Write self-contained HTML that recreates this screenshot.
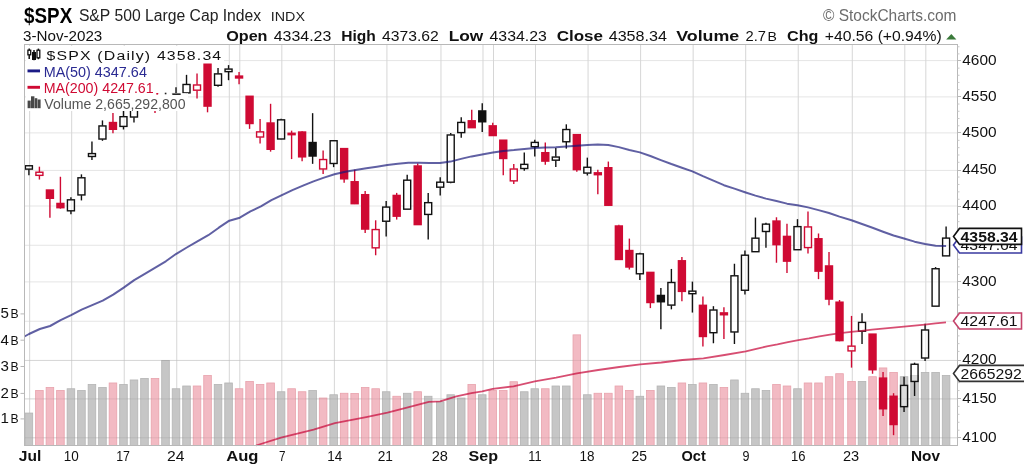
<!DOCTYPE html>
<html><head><meta charset="utf-8"><title>$SPX</title><style>html,body{margin:0;padding:0;background:#fff}body{width:1024px;height:467px;overflow:hidden}svg{filter:blur(0.55px)}</style></head><body>
<svg width="1024" height="467" viewBox="0 0 1024 467" style="display:block;font-family:'Liberation Sans',sans-serif">
<rect width="1024" height="467" fill="#fff"/>
<g stroke="#e5e5e5" stroke-width="1">
<line x1="24.5" y1="437.8" x2="957.5" y2="437.8"/>
<line x1="24.5" y1="398.9" x2="957.5" y2="398.9"/>
<line x1="24.5" y1="360.4" x2="957.5" y2="360.4"/>
<line x1="24.5" y1="321.25" x2="957.5" y2="321.25"/>
<line x1="24.5" y1="281.9" x2="957.5" y2="281.9"/>
<line x1="24.5" y1="245.25" x2="957.5" y2="245.25"/>
<line x1="24.5" y1="206" x2="957.5" y2="206"/>
<line x1="24.5" y1="170.4" x2="957.5" y2="170.4"/>
<line x1="24.5" y1="132.9" x2="957.5" y2="132.9"/>
<line x1="24.5" y1="96.9" x2="957.5" y2="96.9"/>
<line x1="24.5" y1="60.6" x2="957.5" y2="60.6"/>
<line x1="29.65" y1="44.5" x2="29.65" y2="445.5" stroke="#d6d6d6"/>
<line x1="71.68" y1="44.5" x2="71.68" y2="445.5" stroke="#d6d6d6"/>
<line x1="124.22" y1="44.5" x2="124.22" y2="445.5" stroke="#d6d6d6"/>
<line x1="176.76" y1="44.5" x2="176.76" y2="445.5" stroke="#d6d6d6"/>
<line x1="229.3" y1="44.5" x2="229.3" y2="445.5" stroke="#d6d6d6"/>
<line x1="239.81" y1="44.5" x2="239.81" y2="445.5" stroke="#d6d6d6"/>
<line x1="281.84" y1="44.5" x2="281.84" y2="445.5" stroke="#d6d6d6"/>
<line x1="334.38" y1="44.5" x2="334.38" y2="445.5" stroke="#d6d6d6"/>
<line x1="386.92" y1="44.5" x2="386.92" y2="445.5" stroke="#d6d6d6"/>
<line x1="440.96" y1="44.5" x2="440.96" y2="445.5" stroke="#d6d6d6"/>
<line x1="482.99" y1="44.5" x2="482.99" y2="445.5" stroke="#d6d6d6"/>
<line x1="493.5" y1="44.5" x2="493.5" y2="445.5" stroke="#d6d6d6"/>
<line x1="535.53" y1="44.5" x2="535.53" y2="445.5" stroke="#d6d6d6"/>
<line x1="588.07" y1="44.5" x2="588.07" y2="445.5" stroke="#d6d6d6"/>
<line x1="640.61" y1="44.5" x2="640.61" y2="445.5" stroke="#d6d6d6"/>
<line x1="693.15" y1="44.5" x2="693.15" y2="445.5" stroke="#d6d6d6"/>
<line x1="745.69" y1="44.5" x2="745.69" y2="445.5" stroke="#d6d6d6"/>
<line x1="798.23" y1="44.5" x2="798.23" y2="445.5" stroke="#d6d6d6"/>
<line x1="852.27" y1="44.5" x2="852.27" y2="445.5" stroke="#d6d6d6"/>
<line x1="904.81" y1="44.5" x2="904.81" y2="445.5" stroke="#d6d6d6"/>
<line x1="925.83" y1="44.5" x2="925.83" y2="445.5" stroke="#d6d6d6"/>
</g>
<g stroke-width="0.8">
<rect x="25.1" y="413.06" width="7.6" height="32.44" fill="#c6c6c6" stroke="#b4b4b4"/>
<rect x="35.61" y="390.5" width="7.6" height="55" fill="#f2bac3" stroke="#e8a2ac"/>
<rect x="46.12" y="387.49" width="7.6" height="58.01" fill="#f2bac3" stroke="#e8a2ac"/>
<rect x="56.62" y="390.5" width="7.6" height="55" fill="#f2bac3" stroke="#e8a2ac"/>
<rect x="67.13" y="388.75" width="7.6" height="56.75" fill="#c6c6c6" stroke="#b4b4b4"/>
<rect x="77.64" y="390.5" width="7.6" height="55" fill="#c6c6c6" stroke="#b4b4b4"/>
<rect x="88.15" y="384.49" width="7.6" height="61.01" fill="#c6c6c6" stroke="#b4b4b4"/>
<rect x="98.66" y="387.49" width="7.6" height="58.01" fill="#c6c6c6" stroke="#b4b4b4"/>
<rect x="109.16" y="382.98" width="7.6" height="62.52" fill="#f2bac3" stroke="#e8a2ac"/>
<rect x="119.67" y="384.49" width="7.6" height="61.01" fill="#c6c6c6" stroke="#b4b4b4"/>
<rect x="130.18" y="379.97" width="7.6" height="65.53" fill="#c6c6c6" stroke="#b4b4b4"/>
<rect x="140.69" y="378.47" width="7.6" height="67.03" fill="#c6c6c6" stroke="#b4b4b4"/>
<rect x="151.2" y="378.47" width="7.6" height="67.03" fill="#f2bac3" stroke="#e8a2ac"/>
<rect x="161.7" y="360.43" width="7.6" height="85.07" fill="#c6c6c6" stroke="#b4b4b4"/>
<rect x="172.21" y="388.75" width="7.6" height="56.75" fill="#c6c6c6" stroke="#b4b4b4"/>
<rect x="182.72" y="385.99" width="7.6" height="59.51" fill="#c6c6c6" stroke="#b4b4b4"/>
<rect x="193.23" y="385.99" width="7.6" height="59.51" fill="#f2bac3" stroke="#e8a2ac"/>
<rect x="203.74" y="375.46" width="7.6" height="70.04" fill="#f2bac3" stroke="#e8a2ac"/>
<rect x="214.24" y="384.49" width="7.6" height="61.01" fill="#c6c6c6" stroke="#b4b4b4"/>
<rect x="224.75" y="382.98" width="7.6" height="62.52" fill="#c6c6c6" stroke="#b4b4b4"/>
<rect x="235.26" y="388.75" width="7.6" height="56.75" fill="#f2bac3" stroke="#e8a2ac"/>
<rect x="245.77" y="381.48" width="7.6" height="64.02" fill="#f2bac3" stroke="#e8a2ac"/>
<rect x="256.28" y="384.49" width="7.6" height="61.01" fill="#f2bac3" stroke="#e8a2ac"/>
<rect x="266.78" y="382.98" width="7.6" height="62.52" fill="#f2bac3" stroke="#e8a2ac"/>
<rect x="277.29" y="391.75" width="7.6" height="53.75" fill="#c6c6c6" stroke="#b4b4b4"/>
<rect x="287.8" y="388.75" width="7.6" height="56.75" fill="#f2bac3" stroke="#e8a2ac"/>
<rect x="298.31" y="391.75" width="7.6" height="53.75" fill="#f2bac3" stroke="#e8a2ac"/>
<rect x="308.82" y="390.5" width="7.6" height="55" fill="#c6c6c6" stroke="#b4b4b4"/>
<rect x="319.32" y="398.02" width="7.6" height="47.48" fill="#f2bac3" stroke="#e8a2ac"/>
<rect x="329.83" y="394.76" width="7.6" height="50.74" fill="#c6c6c6" stroke="#b4b4b4"/>
<rect x="340.34" y="393.26" width="7.6" height="52.24" fill="#f2bac3" stroke="#e8a2ac"/>
<rect x="350.85" y="393.51" width="7.6" height="51.99" fill="#f2bac3" stroke="#e8a2ac"/>
<rect x="361.36" y="387.49" width="7.6" height="58.01" fill="#f2bac3" stroke="#e8a2ac"/>
<rect x="371.86" y="388.75" width="7.6" height="56.75" fill="#f2bac3" stroke="#e8a2ac"/>
<rect x="382.37" y="391.75" width="7.6" height="53.75" fill="#c6c6c6" stroke="#b4b4b4"/>
<rect x="392.88" y="396.26" width="7.6" height="49.24" fill="#f2bac3" stroke="#e8a2ac"/>
<rect x="403.39" y="393.26" width="7.6" height="52.24" fill="#c6c6c6" stroke="#b4b4b4"/>
<rect x="413.9" y="391.75" width="7.6" height="53.75" fill="#f2bac3" stroke="#e8a2ac"/>
<rect x="424.4" y="396.26" width="7.6" height="49.24" fill="#c6c6c6" stroke="#b4b4b4"/>
<rect x="436.41" y="401.78" width="7.6" height="43.72" fill="#c6c6c6" stroke="#b4b4b4"/>
<rect x="446.92" y="394.76" width="7.6" height="50.74" fill="#c6c6c6" stroke="#b4b4b4"/>
<rect x="457.43" y="398.02" width="7.6" height="47.48" fill="#c6c6c6" stroke="#b4b4b4"/>
<rect x="467.94" y="384.49" width="7.6" height="61.01" fill="#f2bac3" stroke="#e8a2ac"/>
<rect x="478.44" y="394.76" width="7.6" height="50.74" fill="#c6c6c6" stroke="#b4b4b4"/>
<rect x="488.95" y="390.5" width="7.6" height="55" fill="#f2bac3" stroke="#e8a2ac"/>
<rect x="499.46" y="390.5" width="7.6" height="55" fill="#f2bac3" stroke="#e8a2ac"/>
<rect x="509.97" y="381.73" width="7.6" height="63.77" fill="#f2bac3" stroke="#e8a2ac"/>
<rect x="520.48" y="391.75" width="7.6" height="53.75" fill="#c6c6c6" stroke="#b4b4b4"/>
<rect x="530.98" y="388.75" width="7.6" height="56.75" fill="#c6c6c6" stroke="#b4b4b4"/>
<rect x="541.49" y="388.75" width="7.6" height="56.75" fill="#f2bac3" stroke="#e8a2ac"/>
<rect x="552" y="385.99" width="7.6" height="59.51" fill="#c6c6c6" stroke="#b4b4b4"/>
<rect x="562.51" y="385.99" width="7.6" height="59.51" fill="#c6c6c6" stroke="#b4b4b4"/>
<rect x="573.02" y="334.86" width="7.6" height="110.64" fill="#f2bac3" stroke="#e8a2ac"/>
<rect x="583.52" y="394.76" width="7.6" height="50.74" fill="#c6c6c6" stroke="#b4b4b4"/>
<rect x="594.03" y="393.26" width="7.6" height="52.24" fill="#f2bac3" stroke="#e8a2ac"/>
<rect x="604.54" y="393.26" width="7.6" height="52.24" fill="#f2bac3" stroke="#e8a2ac"/>
<rect x="615.05" y="385.99" width="7.6" height="59.51" fill="#f2bac3" stroke="#e8a2ac"/>
<rect x="625.56" y="390.5" width="7.6" height="55" fill="#f2bac3" stroke="#e8a2ac"/>
<rect x="636.06" y="396.26" width="7.6" height="49.24" fill="#c6c6c6" stroke="#b4b4b4"/>
<rect x="646.57" y="390.5" width="7.6" height="55" fill="#f2bac3" stroke="#e8a2ac"/>
<rect x="657.08" y="385.99" width="7.6" height="59.51" fill="#c6c6c6" stroke="#b4b4b4"/>
<rect x="667.59" y="387.49" width="7.6" height="58.01" fill="#c6c6c6" stroke="#b4b4b4"/>
<rect x="678.1" y="382.98" width="7.6" height="62.52" fill="#f2bac3" stroke="#e8a2ac"/>
<rect x="688.6" y="384.49" width="7.6" height="61.01" fill="#c6c6c6" stroke="#b4b4b4"/>
<rect x="699.11" y="382.98" width="7.6" height="62.52" fill="#f2bac3" stroke="#e8a2ac"/>
<rect x="709.62" y="384.49" width="7.6" height="61.01" fill="#c6c6c6" stroke="#b4b4b4"/>
<rect x="720.13" y="387.49" width="7.6" height="58.01" fill="#f2bac3" stroke="#e8a2ac"/>
<rect x="730.64" y="379.97" width="7.6" height="65.53" fill="#c6c6c6" stroke="#b4b4b4"/>
<rect x="741.14" y="393.26" width="7.6" height="52.24" fill="#c6c6c6" stroke="#b4b4b4"/>
<rect x="751.65" y="388.75" width="7.6" height="56.75" fill="#c6c6c6" stroke="#b4b4b4"/>
<rect x="762.16" y="390.5" width="7.6" height="55" fill="#c6c6c6" stroke="#b4b4b4"/>
<rect x="772.67" y="384.49" width="7.6" height="61.01" fill="#f2bac3" stroke="#e8a2ac"/>
<rect x="783.18" y="385.99" width="7.6" height="59.51" fill="#f2bac3" stroke="#e8a2ac"/>
<rect x="793.68" y="388.75" width="7.6" height="56.75" fill="#c6c6c6" stroke="#b4b4b4"/>
<rect x="804.19" y="382.98" width="7.6" height="62.52" fill="#f2bac3" stroke="#e8a2ac"/>
<rect x="814.7" y="382.98" width="7.6" height="62.52" fill="#f2bac3" stroke="#e8a2ac"/>
<rect x="825.21" y="376.72" width="7.6" height="68.78" fill="#f2bac3" stroke="#e8a2ac"/>
<rect x="835.72" y="373.71" width="7.6" height="71.79" fill="#f2bac3" stroke="#e8a2ac"/>
<rect x="847.72" y="381.48" width="7.6" height="64.02" fill="#f2bac3" stroke="#e8a2ac"/>
<rect x="858.23" y="381.48" width="7.6" height="64.02" fill="#c6c6c6" stroke="#b4b4b4"/>
<rect x="868.74" y="376.72" width="7.6" height="68.78" fill="#f2bac3" stroke="#e8a2ac"/>
<rect x="879.25" y="367.94" width="7.6" height="77.56" fill="#f2bac3" stroke="#e8a2ac"/>
<rect x="889.76" y="372.46" width="7.6" height="73.04" fill="#f2bac3" stroke="#e8a2ac"/>
<rect x="900.26" y="376.72" width="7.6" height="68.78" fill="#c6c6c6" stroke="#b4b4b4"/>
<rect x="910.77" y="375.46" width="7.6" height="70.04" fill="#c6c6c6" stroke="#b4b4b4"/>
<rect x="921.28" y="372.46" width="7.6" height="73.04" fill="#c6c6c6" stroke="#b4b4b4"/>
<rect x="931.79" y="372.46" width="7.6" height="73.04" fill="#c6c6c6" stroke="#b4b4b4"/>
<rect x="942.3" y="375.46" width="7.6" height="70.04" fill="#c6c6c6" stroke="#b4b4b4"/>
</g>
<g stroke="#000" stroke-opacity="0.07" stroke-width="1">
<line x1="24.5" y1="437.8" x2="957.5" y2="437.8"/>
<line x1="24.5" y1="398.9" x2="957.5" y2="398.9"/>
<line x1="24.5" y1="360.4" x2="957.5" y2="360.4"/>
</g>
<line x1="28.9" y1="164.92" x2="28.9" y2="165.56" stroke="#111111" stroke-width="1.4"/>
<line x1="28.9" y1="169.32" x2="28.9" y2="175.36" stroke="#111111" stroke-width="1.4"/>
<rect x="25.4" y="165.76" width="7" height="3.36" fill="#fff" fill-opacity="0.4" stroke="#111111" stroke-width="1.4"/>
<line x1="39.41" y1="166.68" x2="39.41" y2="172.02" stroke="#cf0a33" stroke-width="1.4"/>
<line x1="39.41" y1="175.54" x2="39.41" y2="179.55" stroke="#cf0a33" stroke-width="1.4"/>
<rect x="35.91" y="172.22" width="7" height="3.13" fill="#fff" fill-opacity="0.4" stroke="#cf0a33" stroke-width="1.4"/>
<line x1="49.92" y1="198.09" x2="49.92" y2="217.87" stroke="#cf0a33" stroke-width="1.4"/>
<rect x="45.72" y="189.3" width="8.4" height="9.69" fill="#cf0a33"/>
<line x1="60.42" y1="176.76" x2="60.42" y2="203.33" stroke="#cf0a33" stroke-width="1.4"/>
<line x1="60.42" y1="207.5" x2="60.42" y2="208.65" stroke="#cf0a33" stroke-width="1.4"/>
<rect x="56.22" y="202.73" width="8.4" height="5.66" fill="#cf0a33"/>
<line x1="70.93" y1="197.34" x2="70.93" y2="199.62" stroke="#111111" stroke-width="1.4"/>
<line x1="70.93" y1="211.01" x2="70.93" y2="214.23" stroke="#111111" stroke-width="1.4"/>
<rect x="67.43" y="199.82" width="7" height="10.99" fill="#fff" fill-opacity="0.4" stroke="#111111" stroke-width="1.4"/>
<line x1="81.44" y1="174.36" x2="81.44" y2="177.59" stroke="#111111" stroke-width="1.4"/>
<line x1="81.44" y1="195.15" x2="81.44" y2="200.42" stroke="#111111" stroke-width="1.4"/>
<rect x="77.94" y="177.79" width="7" height="17.15" fill="#fff" fill-opacity="0.4" stroke="#111111" stroke-width="1.4"/>
<line x1="91.95" y1="141.55" x2="91.95" y2="153.39" stroke="#111111" stroke-width="1.4"/>
<line x1="91.95" y1="156.67" x2="91.95" y2="159.94" stroke="#111111" stroke-width="1.4"/>
<rect x="88.45" y="153.59" width="7" height="2.88" fill="#fff" fill-opacity="0.4" stroke="#111111" stroke-width="1.4"/>
<line x1="102.46" y1="120.41" x2="102.46" y2="125.74" stroke="#111111" stroke-width="1.4"/>
<line x1="102.46" y1="139.24" x2="102.46" y2="140.81" stroke="#111111" stroke-width="1.4"/>
<rect x="98.96" y="125.94" width="7" height="13.1" fill="#fff" fill-opacity="0.4" stroke="#111111" stroke-width="1.4"/>
<line x1="112.96" y1="112.89" x2="112.96" y2="122.42" stroke="#cf0a33" stroke-width="1.4"/>
<line x1="112.96" y1="129.1" x2="112.96" y2="133.37" stroke="#cf0a33" stroke-width="1.4"/>
<rect x="108.76" y="121.82" width="8.4" height="8.18" fill="#cf0a33"/>
<line x1="123.47" y1="109.2" x2="123.47" y2="116.49" stroke="#111111" stroke-width="1.4"/>
<line x1="123.47" y1="126.6" x2="123.47" y2="129.48" stroke="#111111" stroke-width="1.4"/>
<rect x="119.97" y="116.69" width="7" height="9.71" fill="#fff" fill-opacity="0.4" stroke="#111111" stroke-width="1.4"/>
<line x1="133.98" y1="87.98" x2="133.98" y2="93.24" stroke="#111111" stroke-width="1.4"/>
<line x1="133.98" y1="117.22" x2="133.98" y2="122.44" stroke="#111111" stroke-width="1.4"/>
<rect x="130.48" y="93.44" width="7" height="23.58" fill="#fff" fill-opacity="0.4" stroke="#111111" stroke-width="1.4"/>
<line x1="144.49" y1="76.41" x2="144.49" y2="85.28" stroke="#111111" stroke-width="1.4"/>
<line x1="144.49" y1="87.08" x2="144.49" y2="91.44" stroke="#111111" stroke-width="1.4"/>
<rect x="140.99" y="85.48" width="7" height="1.4" fill="#fff" fill-opacity="0.4" stroke="#111111" stroke-width="1.4"/>
<line x1="155" y1="86.22" x2="155" y2="93.67" stroke="#cf0a33" stroke-width="1.4"/>
<line x1="155" y1="107.74" x2="155" y2="113.03" stroke="#cf0a33" stroke-width="1.4"/>
<rect x="150.8" y="93.07" width="8.4" height="15.57" fill="#cf0a33"/>
<line x1="165.5" y1="93.23" x2="165.5" y2="96.71" stroke="#111111" stroke-width="1.4"/>
<line x1="165.5" y1="106.68" x2="165.5" y2="107.08" stroke="#111111" stroke-width="1.4"/>
<rect x="161.3" y="96.11" width="8.4" height="11.47" fill="#111111"/>
<line x1="176.01" y1="87.18" x2="176.01" y2="93.48" stroke="#111111" stroke-width="1.4"/>
<line x1="176.01" y1="101.59" x2="176.01" y2="103.11" stroke="#111111" stroke-width="1.4"/>
<rect x="172.51" y="93.68" width="7" height="7.71" fill="#fff" fill-opacity="0.4" stroke="#111111" stroke-width="1.4"/>
<line x1="186.52" y1="74.84" x2="186.52" y2="84.27" stroke="#111111" stroke-width="1.4"/>
<line x1="186.52" y1="93.09" x2="186.52" y2="95.08" stroke="#111111" stroke-width="1.4"/>
<rect x="183.02" y="84.47" width="7" height="8.42" fill="#fff" fill-opacity="0.4" stroke="#111111" stroke-width="1.4"/>
<line x1="197.03" y1="73.52" x2="197.03" y2="84.78" stroke="#cf0a33" stroke-width="1.4"/>
<line x1="197.03" y1="90.38" x2="197.03" y2="98.57" stroke="#cf0a33" stroke-width="1.4"/>
<rect x="193.53" y="84.98" width="7" height="5.2" fill="#fff" fill-opacity="0.4" stroke="#cf0a33" stroke-width="1.4"/>
<line x1="207.54" y1="55.97" x2="207.54" y2="62.24" stroke="#cf0a33" stroke-width="1.4"/>
<line x1="207.54" y1="105.91" x2="207.54" y2="112.31" stroke="#cf0a33" stroke-width="1.4"/>
<rect x="203.34" y="61.64" width="8.4" height="45.17" fill="#cf0a33"/>
<line x1="218.04" y1="68.02" x2="218.04" y2="73.69" stroke="#111111" stroke-width="1.4"/>
<line x1="218.04" y1="85.5" x2="218.04" y2="86.75" stroke="#111111" stroke-width="1.4"/>
<rect x="214.54" y="73.89" width="7" height="11.41" fill="#fff" fill-opacity="0.4" stroke="#111111" stroke-width="1.4"/>
<line x1="228.55" y1="65.12" x2="228.55" y2="68.88" stroke="#111111" stroke-width="1.4"/>
<line x1="228.55" y1="71.84" x2="228.55" y2="80.2" stroke="#111111" stroke-width="1.4"/>
<rect x="225.05" y="69.08" width="7" height="2.56" fill="#fff" fill-opacity="0.4" stroke="#111111" stroke-width="1.4"/>
<line x1="239.06" y1="71.98" x2="239.06" y2="75.97" stroke="#cf0a33" stroke-width="1.4"/>
<line x1="239.06" y1="77.77" x2="239.06" y2="84.22" stroke="#cf0a33" stroke-width="1.4"/>
<rect x="234.86" y="75.37" width="8.4" height="3.3" fill="#cf0a33"/>
<line x1="249.57" y1="123.31" x2="249.57" y2="128.86" stroke="#cf0a33" stroke-width="1.4"/>
<rect x="245.37" y="95.56" width="8.4" height="28.65" fill="#cf0a33"/>
<line x1="260.08" y1="118.88" x2="260.08" y2="131.67" stroke="#cf0a33" stroke-width="1.4"/>
<line x1="260.08" y1="137.22" x2="260.08" y2="143.6" stroke="#cf0a33" stroke-width="1.4"/>
<rect x="256.58" y="131.87" width="7" height="5.15" fill="#fff" fill-opacity="0.4" stroke="#cf0a33" stroke-width="1.4"/>
<line x1="270.58" y1="103.79" x2="270.58" y2="122.89" stroke="#cf0a33" stroke-width="1.4"/>
<line x1="270.58" y1="149.09" x2="270.58" y2="151.64" stroke="#cf0a33" stroke-width="1.4"/>
<rect x="266.38" y="122.29" width="8.4" height="27.7" fill="#cf0a33"/>
<line x1="281.09" y1="118.63" x2="281.09" y2="119.64" stroke="#111111" stroke-width="1.4"/>
<line x1="281.09" y1="139.19" x2="281.09" y2="139.5" stroke="#111111" stroke-width="1.4"/>
<rect x="277.59" y="119.84" width="7" height="19.14" fill="#fff" fill-opacity="0.4" stroke="#111111" stroke-width="1.4"/>
<line x1="291.6" y1="130.64" x2="291.6" y2="133.09" stroke="#cf0a33" stroke-width="1.4"/>
<line x1="291.6" y1="134.89" x2="291.6" y2="159.09" stroke="#cf0a33" stroke-width="1.4"/>
<rect x="288.1" y="133.29" width="7" height="1.4" fill="#fff" fill-opacity="0.4" stroke="#cf0a33" stroke-width="1.4"/>
<line x1="302.11" y1="131.27" x2="302.11" y2="131.9" stroke="#cf0a33" stroke-width="1.4"/>
<line x1="302.11" y1="156.65" x2="302.11" y2="161.34" stroke="#cf0a33" stroke-width="1.4"/>
<rect x="297.91" y="131.3" width="8.4" height="26.25" fill="#cf0a33"/>
<line x1="312.62" y1="113.17" x2="312.62" y2="142.41" stroke="#111111" stroke-width="1.4"/>
<line x1="312.62" y1="155.83" x2="312.62" y2="163.84" stroke="#111111" stroke-width="1.4"/>
<rect x="308.42" y="141.81" width="8.4" height="14.92" fill="#111111"/>
<line x1="323.12" y1="150.41" x2="323.12" y2="159.34" stroke="#cf0a33" stroke-width="1.4"/>
<line x1="323.12" y1="169.16" x2="323.12" y2="174.11" stroke="#cf0a33" stroke-width="1.4"/>
<rect x="319.62" y="159.54" width="7" height="9.43" fill="#fff" fill-opacity="0.4" stroke="#cf0a33" stroke-width="1.4"/>
<line x1="333.63" y1="140.1" x2="333.63" y2="140.54" stroke="#111111" stroke-width="1.4"/>
<line x1="333.63" y1="163.69" x2="333.63" y2="167.14" stroke="#111111" stroke-width="1.4"/>
<rect x="330.13" y="140.74" width="7" height="22.75" fill="#fff" fill-opacity="0.4" stroke="#111111" stroke-width="1.4"/>
<line x1="344.14" y1="178.63" x2="344.14" y2="182.82" stroke="#cf0a33" stroke-width="1.4"/>
<rect x="339.94" y="147.88" width="8.4" height="31.65" fill="#cf0a33"/>
<line x1="354.65" y1="169.71" x2="354.65" y2="181.64" stroke="#cf0a33" stroke-width="1.4"/>
<line x1="354.65" y1="203.49" x2="354.65" y2="204.07" stroke="#cf0a33" stroke-width="1.4"/>
<rect x="350.45" y="181.04" width="8.4" height="23.35" fill="#cf0a33"/>
<line x1="365.16" y1="190.98" x2="365.16" y2="194.58" stroke="#cf0a33" stroke-width="1.4"/>
<line x1="365.16" y1="228.87" x2="365.16" y2="233.02" stroke="#cf0a33" stroke-width="1.4"/>
<rect x="360.96" y="193.98" width="8.4" height="35.79" fill="#cf0a33"/>
<line x1="375.66" y1="220.29" x2="375.66" y2="229.36" stroke="#cf0a33" stroke-width="1.4"/>
<line x1="375.66" y1="248.04" x2="375.66" y2="255.26" stroke="#cf0a33" stroke-width="1.4"/>
<rect x="372.16" y="229.56" width="7" height="18.28" fill="#fff" fill-opacity="0.4" stroke="#cf0a33" stroke-width="1.4"/>
<line x1="386.17" y1="201.09" x2="386.17" y2="206.88" stroke="#111111" stroke-width="1.4"/>
<line x1="386.17" y1="221.44" x2="386.17" y2="236.42" stroke="#111111" stroke-width="1.4"/>
<rect x="382.67" y="207.08" width="7" height="14.15" fill="#fff" fill-opacity="0.4" stroke="#111111" stroke-width="1.4"/>
<line x1="396.68" y1="192.89" x2="396.68" y2="195.31" stroke="#cf0a33" stroke-width="1.4"/>
<line x1="396.68" y1="216" x2="396.68" y2="219.57" stroke="#cf0a33" stroke-width="1.4"/>
<rect x="392.48" y="194.71" width="8.4" height="22.19" fill="#cf0a33"/>
<line x1="407.19" y1="174.7" x2="407.19" y2="179.99" stroke="#111111" stroke-width="1.4"/>
<rect x="403.69" y="180.19" width="7" height="28.97" fill="#fff" fill-opacity="0.4" stroke="#111111" stroke-width="1.4"/>
<line x1="417.7" y1="163.56" x2="417.7" y2="165.87" stroke="#cf0a33" stroke-width="1.4"/>
<line x1="417.7" y1="224.41" x2="417.7" y2="224.98" stroke="#cf0a33" stroke-width="1.4"/>
<rect x="413.5" y="165.27" width="8.4" height="60.04" fill="#cf0a33"/>
<line x1="428.2" y1="192.99" x2="428.2" y2="202.46" stroke="#111111" stroke-width="1.4"/>
<line x1="428.2" y1="214.63" x2="428.2" y2="239.44" stroke="#111111" stroke-width="1.4"/>
<rect x="424.7" y="202.66" width="7" height="11.77" fill="#fff" fill-opacity="0.4" stroke="#111111" stroke-width="1.4"/>
<line x1="440.21" y1="177.37" x2="440.21" y2="181.99" stroke="#111111" stroke-width="1.4"/>
<line x1="440.21" y1="187.38" x2="440.21" y2="195.57" stroke="#111111" stroke-width="1.4"/>
<rect x="436.71" y="182.19" width="7" height="4.99" fill="#fff" fill-opacity="0.4" stroke="#111111" stroke-width="1.4"/>
<line x1="450.72" y1="132.94" x2="450.72" y2="134.77" stroke="#111111" stroke-width="1.4"/>
<line x1="450.72" y1="182.4" x2="450.72" y2="183.2" stroke="#111111" stroke-width="1.4"/>
<rect x="447.22" y="134.97" width="7" height="47.23" fill="#fff" fill-opacity="0.4" stroke="#111111" stroke-width="1.4"/>
<line x1="461.23" y1="117.31" x2="461.23" y2="122.23" stroke="#111111" stroke-width="1.4"/>
<line x1="461.23" y1="132.8" x2="461.23" y2="137.72" stroke="#111111" stroke-width="1.4"/>
<rect x="457.73" y="122.43" width="7" height="10.17" fill="#fff" fill-opacity="0.4" stroke="#111111" stroke-width="1.4"/>
<line x1="471.74" y1="109.63" x2="471.74" y2="120.68" stroke="#cf0a33" stroke-width="1.4"/>
<line x1="471.74" y1="127.47" x2="471.74" y2="127.67" stroke="#cf0a33" stroke-width="1.4"/>
<rect x="467.54" y="120.08" width="8.4" height="8.29" fill="#cf0a33"/>
<line x1="482.24" y1="103.14" x2="482.24" y2="110.83" stroke="#111111" stroke-width="1.4"/>
<line x1="482.24" y1="121.58" x2="482.24" y2="132.06" stroke="#111111" stroke-width="1.4"/>
<rect x="478.04" y="110.23" width="8.4" height="12.25" fill="#111111"/>
<line x1="492.75" y1="122.65" x2="492.75" y2="125.73" stroke="#cf0a33" stroke-width="1.4"/>
<line x1="492.75" y1="135.36" x2="492.75" y2="135.95" stroke="#cf0a33" stroke-width="1.4"/>
<rect x="488.55" y="125.13" width="8.4" height="11.13" fill="#cf0a33"/>
<line x1="503.26" y1="158.29" x2="503.26" y2="175.29" stroke="#cf0a33" stroke-width="1.4"/>
<rect x="499.06" y="139.48" width="8.4" height="19.71" fill="#cf0a33"/>
<line x1="513.77" y1="163.92" x2="513.77" y2="168.83" stroke="#cf0a33" stroke-width="1.4"/>
<line x1="513.77" y1="181.07" x2="513.77" y2="184.1" stroke="#cf0a33" stroke-width="1.4"/>
<rect x="510.27" y="169.03" width="7" height="11.84" fill="#fff" fill-opacity="0.4" stroke="#cf0a33" stroke-width="1.4"/>
<line x1="524.28" y1="152.39" x2="524.28" y2="164.16" stroke="#111111" stroke-width="1.4"/>
<line x1="524.28" y1="168.72" x2="524.28" y2="170.87" stroke="#111111" stroke-width="1.4"/>
<rect x="520.78" y="164.36" width="7" height="4.16" fill="#fff" fill-opacity="0.4" stroke="#111111" stroke-width="1.4"/>
<line x1="534.78" y1="139.78" x2="534.78" y2="142.19" stroke="#111111" stroke-width="1.4"/>
<line x1="534.78" y1="146.93" x2="534.78" y2="156.52" stroke="#111111" stroke-width="1.4"/>
<rect x="531.28" y="142.39" width="7" height="4.34" fill="#fff" fill-opacity="0.4" stroke="#111111" stroke-width="1.4"/>
<line x1="545.29" y1="142.45" x2="545.29" y2="152.58" stroke="#cf0a33" stroke-width="1.4"/>
<line x1="545.29" y1="160.92" x2="545.29" y2="164.65" stroke="#cf0a33" stroke-width="1.4"/>
<rect x="541.09" y="151.98" width="8.4" height="9.84" fill="#cf0a33"/>
<line x1="555.8" y1="148.09" x2="555.8" y2="156.85" stroke="#111111" stroke-width="1.4"/>
<line x1="555.8" y1="160.37" x2="555.8" y2="167.08" stroke="#111111" stroke-width="1.4"/>
<rect x="552.3" y="157.05" width="7" height="3.12" fill="#fff" fill-opacity="0.4" stroke="#111111" stroke-width="1.4"/>
<line x1="566.31" y1="124.32" x2="566.31" y2="129.33" stroke="#111111" stroke-width="1.4"/>
<line x1="566.31" y1="141.96" x2="566.31" y2="148.61" stroke="#111111" stroke-width="1.4"/>
<rect x="562.81" y="129.53" width="7" height="12.23" fill="#fff" fill-opacity="0.4" stroke="#111111" stroke-width="1.4"/>
<line x1="576.82" y1="169.44" x2="576.82" y2="171.73" stroke="#cf0a33" stroke-width="1.4"/>
<rect x="572.62" y="133.92" width="8.4" height="36.42" fill="#cf0a33"/>
<line x1="587.32" y1="157.64" x2="587.32" y2="167.07" stroke="#111111" stroke-width="1.4"/>
<line x1="587.32" y1="173.26" x2="587.32" y2="175.49" stroke="#111111" stroke-width="1.4"/>
<rect x="583.82" y="167.27" width="7" height="5.79" fill="#fff" fill-opacity="0.4" stroke="#111111" stroke-width="1.4"/>
<line x1="597.83" y1="169.78" x2="597.83" y2="172.69" stroke="#cf0a33" stroke-width="1.4"/>
<line x1="597.83" y1="174.49" x2="597.83" y2="194.36" stroke="#cf0a33" stroke-width="1.4"/>
<rect x="593.63" y="172.09" width="8.4" height="3.3" fill="#cf0a33"/>
<line x1="608.34" y1="161.56" x2="608.34" y2="167.6" stroke="#cf0a33" stroke-width="1.4"/>
<line x1="608.34" y1="205.07" x2="608.34" y2="205.68" stroke="#cf0a33" stroke-width="1.4"/>
<rect x="604.14" y="167" width="8.4" height="38.97" fill="#cf0a33"/>
<line x1="618.85" y1="224.87" x2="618.85" y2="225.87" stroke="#cf0a33" stroke-width="1.4"/>
<line x1="618.85" y1="259.28" x2="618.85" y2="259.91" stroke="#cf0a33" stroke-width="1.4"/>
<rect x="614.65" y="225.27" width="8.4" height="34.91" fill="#cf0a33"/>
<line x1="629.36" y1="238.6" x2="629.36" y2="250.41" stroke="#cf0a33" stroke-width="1.4"/>
<line x1="629.36" y1="266.82" x2="629.36" y2="269.53" stroke="#cf0a33" stroke-width="1.4"/>
<rect x="625.16" y="249.81" width="8.4" height="17.91" fill="#cf0a33"/>
<line x1="639.86" y1="252.85" x2="639.86" y2="253.65" stroke="#111111" stroke-width="1.4"/>
<line x1="639.86" y1="273.99" x2="639.86" y2="280.01" stroke="#111111" stroke-width="1.4"/>
<rect x="636.36" y="253.85" width="7" height="19.93" fill="#fff" fill-opacity="0.4" stroke="#111111" stroke-width="1.4"/>
<line x1="650.37" y1="272.17" x2="650.37" y2="272.27" stroke="#cf0a33" stroke-width="1.4"/>
<line x1="650.37" y1="302.31" x2="650.37" y2="308.11" stroke="#cf0a33" stroke-width="1.4"/>
<rect x="646.17" y="271.67" width="8.4" height="31.55" fill="#cf0a33"/>
<line x1="660.88" y1="288.12" x2="660.88" y2="295.34" stroke="#111111" stroke-width="1.4"/>
<line x1="660.88" y1="301.56" x2="660.88" y2="329.19" stroke="#111111" stroke-width="1.4"/>
<rect x="656.68" y="294.74" width="8.4" height="7.72" fill="#111111"/>
<line x1="671.39" y1="268.93" x2="671.39" y2="282.3" stroke="#111111" stroke-width="1.4"/>
<line x1="671.39" y1="305.29" x2="671.39" y2="309.34" stroke="#111111" stroke-width="1.4"/>
<rect x="667.89" y="282.5" width="7" height="22.59" fill="#fff" fill-opacity="0.4" stroke="#111111" stroke-width="1.4"/>
<line x1="681.9" y1="256.9" x2="681.9" y2="260.66" stroke="#cf0a33" stroke-width="1.4"/>
<line x1="681.9" y1="291.19" x2="681.9" y2="301.29" stroke="#cf0a33" stroke-width="1.4"/>
<rect x="677.7" y="260.06" width="8.4" height="32.03" fill="#cf0a33"/>
<line x1="692.4" y1="281.63" x2="692.4" y2="290.94" stroke="#111111" stroke-width="1.4"/>
<line x1="692.4" y1="293.89" x2="692.4" y2="312.55" stroke="#111111" stroke-width="1.4"/>
<rect x="688.9" y="291.14" width="7" height="2.56" fill="#fff" fill-opacity="0.4" stroke="#111111" stroke-width="1.4"/>
<line x1="702.91" y1="296.47" x2="702.91" y2="305.21" stroke="#cf0a33" stroke-width="1.4"/>
<line x1="702.91" y1="336.3" x2="702.91" y2="346.39" stroke="#cf0a33" stroke-width="1.4"/>
<rect x="698.71" y="304.61" width="8.4" height="32.59" fill="#cf0a33"/>
<line x1="713.42" y1="306.17" x2="713.42" y2="309.82" stroke="#111111" stroke-width="1.4"/>
<line x1="713.42" y1="332.91" x2="713.42" y2="343.26" stroke="#111111" stroke-width="1.4"/>
<rect x="709.92" y="310.02" width="7" height="22.68" fill="#fff" fill-opacity="0.4" stroke="#111111" stroke-width="1.4"/>
<line x1="723.93" y1="307.23" x2="723.93" y2="312.77" stroke="#cf0a33" stroke-width="1.4"/>
<line x1="723.93" y1="314.57" x2="723.93" y2="339.05" stroke="#cf0a33" stroke-width="1.4"/>
<rect x="719.73" y="312.17" width="8.4" height="3.3" fill="#cf0a33"/>
<line x1="734.44" y1="263.75" x2="734.44" y2="275.6" stroke="#111111" stroke-width="1.4"/>
<line x1="734.44" y1="332.16" x2="734.44" y2="343.98" stroke="#111111" stroke-width="1.4"/>
<rect x="730.94" y="275.8" width="7" height="56.17" fill="#fff" fill-opacity="0.4" stroke="#111111" stroke-width="1.4"/>
<line x1="744.94" y1="250.41" x2="744.94" y2="255" stroke="#111111" stroke-width="1.4"/>
<line x1="744.94" y1="290.45" x2="744.94" y2="294.45" stroke="#111111" stroke-width="1.4"/>
<rect x="741.44" y="255.2" width="7" height="35.05" fill="#fff" fill-opacity="0.4" stroke="#111111" stroke-width="1.4"/>
<line x1="755.45" y1="217.56" x2="755.45" y2="237.97" stroke="#111111" stroke-width="1.4"/>
<line x1="755.45" y1="251.91" x2="755.45" y2="251.99" stroke="#111111" stroke-width="1.4"/>
<rect x="751.95" y="238.17" width="7" height="13.54" fill="#fff" fill-opacity="0.4" stroke="#111111" stroke-width="1.4"/>
<line x1="765.96" y1="222.66" x2="765.96" y2="223.93" stroke="#111111" stroke-width="1.4"/>
<line x1="765.96" y1="231.7" x2="765.96" y2="247.69" stroke="#111111" stroke-width="1.4"/>
<rect x="762.46" y="224.13" width="7" height="7.37" fill="#fff" fill-opacity="0.4" stroke="#111111" stroke-width="1.4"/>
<line x1="776.47" y1="217.27" x2="776.47" y2="220.94" stroke="#cf0a33" stroke-width="1.4"/>
<line x1="776.47" y1="244.47" x2="776.47" y2="262.74" stroke="#cf0a33" stroke-width="1.4"/>
<rect x="772.27" y="220.34" width="8.4" height="25.03" fill="#cf0a33"/>
<line x1="786.98" y1="223.82" x2="786.98" y2="236.28" stroke="#cf0a33" stroke-width="1.4"/>
<line x1="786.98" y1="260.96" x2="786.98" y2="272.96" stroke="#cf0a33" stroke-width="1.4"/>
<rect x="782.78" y="235.68" width="8.4" height="26.18" fill="#cf0a33"/>
<line x1="797.48" y1="219.16" x2="797.48" y2="226.42" stroke="#111111" stroke-width="1.4"/>
<rect x="793.98" y="226.62" width="7" height="23.11" fill="#fff" fill-opacity="0.4" stroke="#111111" stroke-width="1.4"/>
<line x1="807.99" y1="211.51" x2="807.99" y2="226.74" stroke="#cf0a33" stroke-width="1.4"/>
<line x1="807.99" y1="247.77" x2="807.99" y2="253.58" stroke="#cf0a33" stroke-width="1.4"/>
<rect x="804.49" y="226.94" width="7" height="20.63" fill="#fff" fill-opacity="0.4" stroke="#cf0a33" stroke-width="1.4"/>
<line x1="818.5" y1="233.49" x2="818.5" y2="238.64" stroke="#cf0a33" stroke-width="1.4"/>
<line x1="818.5" y1="270.96" x2="818.5" y2="279.15" stroke="#cf0a33" stroke-width="1.4"/>
<rect x="814.3" y="238.04" width="8.4" height="33.82" fill="#cf0a33"/>
<line x1="829.01" y1="252.07" x2="829.01" y2="265.83" stroke="#cf0a33" stroke-width="1.4"/>
<line x1="829.01" y1="298.89" x2="829.01" y2="305.26" stroke="#cf0a33" stroke-width="1.4"/>
<rect x="824.81" y="265.23" width="8.4" height="34.56" fill="#cf0a33"/>
<line x1="839.52" y1="299.99" x2="839.52" y2="302.07" stroke="#cf0a33" stroke-width="1.4"/>
<line x1="839.52" y1="340.4" x2="839.52" y2="341.28" stroke="#cf0a33" stroke-width="1.4"/>
<rect x="835.32" y="301.47" width="8.4" height="39.84" fill="#cf0a33"/>
<line x1="851.52" y1="315.91" x2="851.52" y2="345.93" stroke="#cf0a33" stroke-width="1.4"/>
<line x1="851.52" y1="351.1" x2="851.52" y2="367.63" stroke="#cf0a33" stroke-width="1.4"/>
<rect x="848.02" y="346.13" width="7" height="4.77" fill="#fff" fill-opacity="0.4" stroke="#cf0a33" stroke-width="1.4"/>
<line x1="862.03" y1="313.19" x2="862.03" y2="322.2" stroke="#111111" stroke-width="1.4"/>
<line x1="862.03" y1="331.39" x2="862.03" y2="344.08" stroke="#111111" stroke-width="1.4"/>
<rect x="858.53" y="322.4" width="7" height="8.79" fill="#fff" fill-opacity="0.4" stroke="#111111" stroke-width="1.4"/>
<line x1="872.54" y1="369.55" x2="872.54" y2="373.74" stroke="#cf0a33" stroke-width="1.4"/>
<rect x="868.34" y="333.4" width="8.4" height="37.05" fill="#cf0a33"/>
<line x1="883.05" y1="372.03" x2="883.05" y2="378" stroke="#cf0a33" stroke-width="1.4"/>
<line x1="883.05" y1="408.57" x2="883.05" y2="415.97" stroke="#cf0a33" stroke-width="1.4"/>
<rect x="878.85" y="377.4" width="8.4" height="32.07" fill="#cf0a33"/>
<line x1="893.56" y1="393.18" x2="893.56" y2="396.15" stroke="#cf0a33" stroke-width="1.4"/>
<line x1="893.56" y1="424.34" x2="893.56" y2="435.18" stroke="#cf0a33" stroke-width="1.4"/>
<rect x="889.36" y="395.55" width="8.4" height="29.69" fill="#cf0a33"/>
<line x1="904.06" y1="376.84" x2="904.06" y2="385.2" stroke="#111111" stroke-width="1.4"/>
<line x1="904.06" y1="406.85" x2="904.06" y2="411.97" stroke="#111111" stroke-width="1.4"/>
<rect x="900.56" y="385.4" width="7" height="21.25" fill="#fff" fill-opacity="0.4" stroke="#111111" stroke-width="1.4"/>
<line x1="914.57" y1="362.68" x2="914.57" y2="364.05" stroke="#111111" stroke-width="1.4"/>
<line x1="914.57" y1="381.66" x2="914.57" y2="396" stroke="#111111" stroke-width="1.4"/>
<rect x="911.07" y="364.25" width="7" height="17.21" fill="#fff" fill-opacity="0.4" stroke="#111111" stroke-width="1.4"/>
<line x1="925.08" y1="323.78" x2="925.08" y2="329.79" stroke="#111111" stroke-width="1.4"/>
<line x1="925.08" y1="358.21" x2="925.08" y2="360.97" stroke="#111111" stroke-width="1.4"/>
<rect x="921.58" y="329.99" width="7" height="28.03" fill="#fff" fill-opacity="0.4" stroke="#111111" stroke-width="1.4"/>
<line x1="935.59" y1="267.07" x2="935.59" y2="268.55" stroke="#111111" stroke-width="1.4"/>
<rect x="932.09" y="268.75" width="7" height="37.41" fill="#fff" fill-opacity="0.4" stroke="#111111" stroke-width="1.4"/>
<line x1="946.1" y1="226.43" x2="946.1" y2="237.9" stroke="#111111" stroke-width="1.4"/>
<rect x="942.6" y="238.1" width="7" height="17.78" fill="#fff" fill-opacity="0.4" stroke="#111111" stroke-width="1.4"/>
<polyline fill="none" stroke="#141478" stroke-opacity="0.68" stroke-width="2" stroke-linejoin="round" points="24.5,336.5 29,334 39.8,329 50.1,326 60.6,320.2 71.1,315.2 81.6,309.7 92.2,305.2 102.7,300.6 113.2,294.6 123.7,287.6 134.2,280.1 144.8,273.8 155.3,267.6 165.8,261.3 176.3,253.8 186.8,247.5 197.4,241.3 208.3,235.2 218.8,227.7 229.3,220.7 239.8,217.7 250.4,211.4 260.9,206.4 271.4,200.2 281.9,195.1 292.4,190.1 303,185.6 313.5,181.4 324,177.6 334.5,174.3 345.3,171.8 355.6,170.1 366.3,168.3 376.9,166.8 387.4,165.1 397.9,163.8 408.4,162.8 419,162.8 429.5,163.1 440,163.1 450.5,161.6 461,158.9 471.6,156.4 482.1,154.6 492.9,152.6 503.4,150.9 513.9,150.1 524.4,148.9 534.9,148.1 545.29,147.4 555.8,147.23 566.31,146.38 576.82,145.81 587.32,145.01 597.83,144.51 608.34,145.05 618.85,147.13 629.36,149.91 639.86,152.37 650.37,156.03 660.88,160.14 671.39,164.05 681.9,167.69 692.4,171.34 702.91,176.14 713.42,180.62 723.93,185.19 734.44,188.58 744.94,192.23 755.45,195.66 765.96,198.62 776.47,201.06 786.98,203.65 797.48,205.2 807.99,207.37 818.5,210.12 829.01,212.95 839.52,216.61 851.52,220.3 862.03,223.93 872.54,227.69 883.05,231.7 893.56,235.5 904.06,238.55 914.57,241.65 925.08,243.9 935.59,245.69 946.1,245.96"/>
<polyline fill="none" stroke="#c80a3c" stroke-opacity="0.72" stroke-width="1.8" stroke-linejoin="round" points="256,445.5 281,437.7 313.6,429.7 334.9,423.2 366.2,417.2 387.5,412.7 408.8,407.1 428.8,401.9 440.1,401.4 456.4,396.4 471.4,393.1 482.2,391.4 492.7,388.8 513.5,386.3 534.8,381.3 556.1,377.6 576.9,373.3 598.2,370 619.2,367 640.3,364.3 661.3,362.5 682.4,360 703.4,358.3 724.5,355 745.8,351.4 756.3,348.9 766.8,346.4 777.4,344.4 787.9,342.1 798.4,340.1 808.9,338.4 819.4,336.4 830,334.6 840.5,333.1 851,331.9 861.5,330.9 872,329.6 882.6,328.6 893.3,327.6 903.9,326.6 914.4,325.6 924.9,324.6 935.4,323.4 946,322.3"/>
<rect x="24.5" y="44.5" width="933" height="401" fill="none" stroke="#b8b8b8" stroke-width="1" shape-rendering="crispEdges"/>
<g fill="#fff">
<rect x="26" y="46" width="198" height="17.5"/>
<rect x="26" y="63" width="124" height="16.5"/>
<rect x="26" y="79" width="131" height="15"/>
<rect x="26" y="93.2" width="162" height="17.8"/>
</g>
<rect x="156.3" y="93" width="1.8" height="1.6" fill="#cf0a33"/>
<rect x="164.8" y="92.7" width="1.6" height="1.6" fill="#222"/>
<path d="M172.3 94.2 H180.7" stroke="#111" stroke-width="1.4" fill="none"/>
<g stroke="#111" fill="#111"><line x1="29.2" y1="48.6" x2="29.2" y2="59" stroke-width="1.5"/><rect x="27.9" y="50.2" width="2.8" height="4.6" fill="#fff" stroke-width="1.3"/><line x1="34" y1="50" x2="34" y2="60.2" stroke-width="1.5"/><rect x="32" y="52" width="4" height="8" stroke="none"/><line x1="38.4" y1="48.6" x2="38.4" y2="59.2" stroke-width="1.5"/><rect x="37" y="50.2" width="2.8" height="7.6" fill="#fff" stroke-width="1.3"/></g>
<text transform="translate(46.6,60.2) scale(1.16,1)" font-size="13.7" fill="#111" textLength="150.52" lengthAdjust="spacing">$SPX (Daily) 4358.34</text>
<line x1="27.5" y1="70.9" x2="40" y2="70.9" stroke="#1c1c86" stroke-width="2.9"/>
<text x="43.7" y="76.6" font-size="14.6" fill="#2a2a92" textLength="103.2" lengthAdjust="spacingAndGlyphs">MA(50) 4347.64</text>
<line x1="27.5" y1="87.3" x2="40" y2="87.3" stroke="#cf0a33" stroke-width="2.9"/>
<text x="43.7" y="93.4" font-size="14.6" fill="#cf0a33" textLength="110" lengthAdjust="spacingAndGlyphs">MA(200) 4247.61</text>
<g fill="#484848"><rect x="27.6" y="100.6" width="3.1" height="7.6"/><rect x="31" y="96.3" width="3.4" height="11.9"/><rect x="34.7" y="98.2" width="2.6" height="10"/><rect x="37.6" y="99.5" width="3" height="8.7"/></g>
<text x="44.3" y="108.6" font-size="14.3" fill="#555" textLength="141.2" lengthAdjust="spacingAndGlyphs">Volume 2,665,292,800</text>
<text x="24.1" y="22.9" font-size="21.6" font-weight="bold" fill="#000" textLength="48.1" lengthAdjust="spacingAndGlyphs">$SPX</text>
<text x="78.9" y="20.8" font-size="16" fill="#222" textLength="182.3" lengthAdjust="spacingAndGlyphs">S&amp;P 500 Large Cap Index</text>
<text x="270.8" y="20.7" font-size="12.2" fill="#222" textLength="34.2" lengthAdjust="spacingAndGlyphs">INDX</text>
<text x="23" y="40.7" font-size="13.9" fill="#111" textLength="79.3" lengthAdjust="spacingAndGlyphs">3-Nov-2023</text>
<text x="823" y="21.3" font-size="16.2" fill="#6c6c6c" textLength="133.5" lengthAdjust="spacingAndGlyphs">© StockCharts.com</text>
<text x="226.2" y="40.5" font-size="14.6" font-weight="bold" fill="#111" textLength="41.3" lengthAdjust="spacingAndGlyphs">Open</text>
<text x="273.7" y="40.5" font-size="14.6" fill="#111" textLength="57.6" lengthAdjust="spacingAndGlyphs">4334.23</text>
<text x="341.2" y="40.5" font-size="14.6" font-weight="bold" fill="#111" textLength="34.6" lengthAdjust="spacingAndGlyphs">High</text>
<text x="382" y="40.5" font-size="14.6" fill="#111" textLength="56.8" lengthAdjust="spacingAndGlyphs">4373.62</text>
<text x="448.7" y="40.5" font-size="14.6" font-weight="bold" fill="#111" textLength="34.6" lengthAdjust="spacingAndGlyphs">Low</text>
<text x="489.5" y="40.5" font-size="14.6" fill="#111" textLength="57.3" lengthAdjust="spacingAndGlyphs">4334.23</text>
<text x="556.7" y="40.5" font-size="14.6" font-weight="bold" fill="#111" textLength="46.3" lengthAdjust="spacingAndGlyphs">Close</text>
<text x="608.7" y="40.5" font-size="14.6" fill="#111" textLength="58.3" lengthAdjust="spacingAndGlyphs">4358.34</text>
<text x="676.2" y="40.5" font-size="14.6" font-weight="bold" fill="#111" textLength="63.1" lengthAdjust="spacingAndGlyphs">Volume</text>
<text x="745.5" y="40.5" font-size="14.6" fill="#111" textLength="20.5" lengthAdjust="spacingAndGlyphs">2.7</text>
<text x="787" y="40.5" font-size="14.6" font-weight="bold" fill="#111" textLength="31.3" lengthAdjust="spacingAndGlyphs">Chg</text>
<text x="824.8" y="40.5" font-size="14.6" fill="#111" textLength="117" lengthAdjust="spacingAndGlyphs">+40.56 (+0.94%)</text>
<text x="767.6" y="40.5" font-size="12.6" fill="#111" textLength="9.4" lengthAdjust="spacingAndGlyphs">B</text>
<path d="M946.2 39.4 L951.3 33.9 L956.4 39.4 Z" fill="#3b7a3b"/>
<text x="962.3" y="64.6" font-size="14.8" fill="#111" textLength="34.3" lengthAdjust="spacingAndGlyphs">4600</text>
<text x="962.3" y="100.9" font-size="14.8" fill="#111" textLength="34.3" lengthAdjust="spacingAndGlyphs">4550</text>
<text x="962.3" y="136.9" font-size="14.8" fill="#111" textLength="34.3" lengthAdjust="spacingAndGlyphs">4500</text>
<text x="962.3" y="174.4" font-size="14.8" fill="#111" textLength="34.3" lengthAdjust="spacingAndGlyphs">4450</text>
<text x="962.3" y="210" font-size="14.8" fill="#111" textLength="34.3" lengthAdjust="spacingAndGlyphs">4400</text>
<text x="962.3" y="285.9" font-size="14.8" fill="#111" textLength="34.3" lengthAdjust="spacingAndGlyphs">4300</text>
<text x="962.3" y="364.4" font-size="14.8" fill="#111" textLength="34.3" lengthAdjust="spacingAndGlyphs">4200</text>
<text x="962.3" y="402.9" font-size="14.8" fill="#111" textLength="34.3" lengthAdjust="spacingAndGlyphs">4150</text>
<text x="962.3" y="441.8" font-size="14.8" fill="#111" textLength="34.3" lengthAdjust="spacingAndGlyphs">4100</text>
<g stroke="#b8b8b8" stroke-width="1" shape-rendering="crispEdges">
<line x1="957.5" y1="437.8" x2="961" y2="437.8"/>
<line x1="957.5" y1="398.9" x2="961" y2="398.9"/>
<line x1="957.5" y1="360.4" x2="961" y2="360.4"/>
<line x1="957.5" y1="321.25" x2="961" y2="321.25"/>
<line x1="957.5" y1="281.9" x2="961" y2="281.9"/>
<line x1="957.5" y1="245.25" x2="961" y2="245.25"/>
<line x1="957.5" y1="206" x2="961" y2="206"/>
<line x1="957.5" y1="170.4" x2="961" y2="170.4"/>
<line x1="957.5" y1="132.9" x2="961" y2="132.9"/>
<line x1="957.5" y1="96.9" x2="961" y2="96.9"/>
<line x1="957.5" y1="60.6" x2="961" y2="60.6"/>
</g>
<g stroke="#c8c8c8" stroke-width="1">
<line x1="957.5" y1="430.21" x2="959.5" y2="430.21"/>
<line x1="957.5" y1="422.25" x2="959.5" y2="422.25"/>
<line x1="957.5" y1="414.3" x2="959.5" y2="414.3"/>
<line x1="957.5" y1="406.37" x2="959.5" y2="406.37"/>
<line x1="957.5" y1="390.57" x2="959.5" y2="390.57"/>
<line x1="957.5" y1="382.7" x2="959.5" y2="382.7"/>
<line x1="957.5" y1="374.85" x2="959.5" y2="374.85"/>
<line x1="957.5" y1="367.02" x2="959.5" y2="367.02"/>
<line x1="957.5" y1="351.41" x2="959.5" y2="351.41"/>
<line x1="957.5" y1="343.63" x2="959.5" y2="343.63"/>
<line x1="957.5" y1="335.87" x2="959.5" y2="335.87"/>
<line x1="957.5" y1="328.13" x2="959.5" y2="328.13"/>
<line x1="957.5" y1="312.71" x2="959.5" y2="312.71"/>
<line x1="957.5" y1="305.02" x2="959.5" y2="305.02"/>
<line x1="957.5" y1="297.35" x2="959.5" y2="297.35"/>
<line x1="957.5" y1="289.7" x2="959.5" y2="289.7"/>
<line x1="957.5" y1="274.46" x2="959.5" y2="274.46"/>
<line x1="957.5" y1="266.86" x2="959.5" y2="266.86"/>
<line x1="957.5" y1="259.28" x2="959.5" y2="259.28"/>
<line x1="957.5" y1="251.72" x2="959.5" y2="251.72"/>
<line x1="957.5" y1="236.65" x2="959.5" y2="236.65"/>
<line x1="957.5" y1="229.14" x2="959.5" y2="229.14"/>
<line x1="957.5" y1="221.65" x2="959.5" y2="221.65"/>
<line x1="957.5" y1="214.17" x2="959.5" y2="214.17"/>
<line x1="957.5" y1="199.27" x2="959.5" y2="199.27"/>
<line x1="957.5" y1="191.85" x2="959.5" y2="191.85"/>
<line x1="957.5" y1="184.44" x2="959.5" y2="184.44"/>
<line x1="957.5" y1="177.05" x2="959.5" y2="177.05"/>
<line x1="957.5" y1="162.31" x2="959.5" y2="162.31"/>
<line x1="957.5" y1="154.97" x2="959.5" y2="154.97"/>
<line x1="957.5" y1="147.65" x2="959.5" y2="147.65"/>
<line x1="957.5" y1="140.34" x2="959.5" y2="140.34"/>
<line x1="957.5" y1="125.77" x2="959.5" y2="125.77"/>
<line x1="957.5" y1="118.51" x2="959.5" y2="118.51"/>
<line x1="957.5" y1="111.27" x2="959.5" y2="111.27"/>
<line x1="957.5" y1="104.04" x2="959.5" y2="104.04"/>
<line x1="957.5" y1="89.63" x2="959.5" y2="89.63"/>
<line x1="957.5" y1="82.45" x2="959.5" y2="82.45"/>
<line x1="957.5" y1="75.28" x2="959.5" y2="75.28"/>
<line x1="957.5" y1="68.13" x2="959.5" y2="68.13"/>
<line x1="957.5" y1="53.88" x2="959.5" y2="53.88"/>
<line x1="957.5" y1="46.78" x2="959.5" y2="46.78"/>
</g>
<text x="0.5" y="318.3" font-size="14.8" fill="#111" textLength="8.4" lengthAdjust="spacingAndGlyphs">5</text>
<text x="10.5" y="318.3" font-size="13.6" fill="#111" textLength="8.1" lengthAdjust="spacingAndGlyphs">B</text>
<line x1="20.5" y1="313.9" x2="24" y2="313.9" stroke="#b8b8b8" stroke-width="1"/>
<text x="0.5" y="344.6" font-size="14.8" fill="#111" textLength="8.4" lengthAdjust="spacingAndGlyphs">4</text>
<text x="10.5" y="344.6" font-size="13.6" fill="#111" textLength="8.1" lengthAdjust="spacingAndGlyphs">B</text>
<line x1="20.5" y1="340.2" x2="24" y2="340.2" stroke="#b8b8b8" stroke-width="1"/>
<text x="0.5" y="370.9" font-size="14.8" fill="#111" textLength="8.4" lengthAdjust="spacingAndGlyphs">3</text>
<text x="10.5" y="370.9" font-size="13.6" fill="#111" textLength="8.1" lengthAdjust="spacingAndGlyphs">B</text>
<line x1="20.5" y1="366.5" x2="24" y2="366.5" stroke="#b8b8b8" stroke-width="1"/>
<text x="0.5" y="397.8" font-size="14.8" fill="#111" textLength="8.4" lengthAdjust="spacingAndGlyphs">2</text>
<text x="10.5" y="397.8" font-size="13.6" fill="#111" textLength="8.1" lengthAdjust="spacingAndGlyphs">B</text>
<line x1="20.5" y1="393.4" x2="24" y2="393.4" stroke="#b8b8b8" stroke-width="1"/>
<text x="0.5" y="423.3" font-size="14.8" fill="#111" textLength="8.4" lengthAdjust="spacingAndGlyphs">1</text>
<text x="10.5" y="423.3" font-size="13.6" fill="#111" textLength="8.1" lengthAdjust="spacingAndGlyphs">B</text>
<line x1="20.5" y1="418.9" x2="24" y2="418.9" stroke="#b8b8b8" stroke-width="1"/>
<text x="18.75" y="460.8" font-size="14.6" font-weight="bold" fill="#111" textLength="22.5" lengthAdjust="spacingAndGlyphs">Jul</text>
<text x="63.75" y="460.8" font-size="13.8" fill="#111" textLength="15" lengthAdjust="spacingAndGlyphs">10</text>
<text x="116.25" y="460.8" font-size="13.8" fill="#111" textLength="13.75" lengthAdjust="spacingAndGlyphs">17</text>
<text x="167" y="460.8" font-size="13.8" fill="#111" textLength="17.5" lengthAdjust="spacingAndGlyphs">24</text>
<text x="226.25" y="460.8" font-size="14.6" font-weight="bold" fill="#111" textLength="32.25" lengthAdjust="spacingAndGlyphs">Aug</text>
<text x="279" y="460.8" font-size="13.8" fill="#111" textLength="6.5" lengthAdjust="spacingAndGlyphs">7</text>
<text x="327.25" y="460.8" font-size="13.8" fill="#111" textLength="15" lengthAdjust="spacingAndGlyphs">14</text>
<text x="377.75" y="460.8" font-size="13.8" fill="#111" textLength="15.25" lengthAdjust="spacingAndGlyphs">21</text>
<text x="431.75" y="460.8" font-size="13.8" fill="#111" textLength="16.25" lengthAdjust="spacingAndGlyphs">28</text>
<text x="468.5" y="460.8" font-size="14.6" font-weight="bold" fill="#111" textLength="29.5" lengthAdjust="spacingAndGlyphs">Sep</text>
<text x="528.25" y="460.8" font-size="13.8" fill="#111" textLength="13.25" lengthAdjust="spacingAndGlyphs">11</text>
<text x="579.5" y="460.8" font-size="13.8" fill="#111" textLength="15" lengthAdjust="spacingAndGlyphs">18</text>
<text x="631.5" y="460.8" font-size="13.8" fill="#111" textLength="15.5" lengthAdjust="spacingAndGlyphs">25</text>
<text x="681.5" y="460.8" font-size="14.6" font-weight="bold" fill="#111" textLength="24.25" lengthAdjust="spacingAndGlyphs">Oct</text>
<text x="742.5" y="460.8" font-size="13.8" fill="#111" textLength="7" lengthAdjust="spacingAndGlyphs">9</text>
<text x="791" y="460.8" font-size="13.8" fill="#111" textLength="14.5" lengthAdjust="spacingAndGlyphs">16</text>
<text x="843" y="460.8" font-size="13.8" fill="#111" textLength="16.25" lengthAdjust="spacingAndGlyphs">23</text>
<text x="911" y="460.8" font-size="14.6" font-weight="bold" fill="#111" textLength="29" lengthAdjust="spacingAndGlyphs">Nov</text>
<path d="M953.5 373.4 L959.5 365.4 L1033.5 365.4 L1033.5 381.4 L959.5 381.4 Z" fill="#fff" stroke="#333" stroke-width="1.6" stroke-linejoin="miter"/>
<text x="960.6" y="378.7" font-size="15.4" fill="#111" textLength="61.2" lengthAdjust="spacingAndGlyphs">2665292</text>
<path d="M953.5 321 L959.5 313 L1021.5 313 L1021.5 329 L959.5 329 Z" fill="#fff" stroke="#c4426a" stroke-width="1.6" stroke-linejoin="miter"/>
<text x="960.6" y="326.3" font-size="15.4" fill="#111" textLength="57" lengthAdjust="spacingAndGlyphs">4247.61</text>
<path d="M953.5 245 L959.5 237 L1021.5 237 L1021.5 253 L959.5 253 Z" fill="#fff" stroke="#3a3aa0" stroke-width="1.6" stroke-linejoin="miter"/>
<text x="960.6" y="250.3" font-size="15.4" fill="#111" textLength="57" lengthAdjust="spacingAndGlyphs">4347.64</text>
<path d="M953.5 236.4 L959.5 228.4 L1021.5 228.4 L1021.5 244.4 L959.5 244.4 Z" fill="#fff" stroke="#111" stroke-width="1.6" stroke-linejoin="miter"/>
<text x="960.6" y="241.7" font-size="15.4" font-weight="bold" fill="#111" textLength="57" lengthAdjust="spacingAndGlyphs">4358.34</text>
</svg>
</body></html>
